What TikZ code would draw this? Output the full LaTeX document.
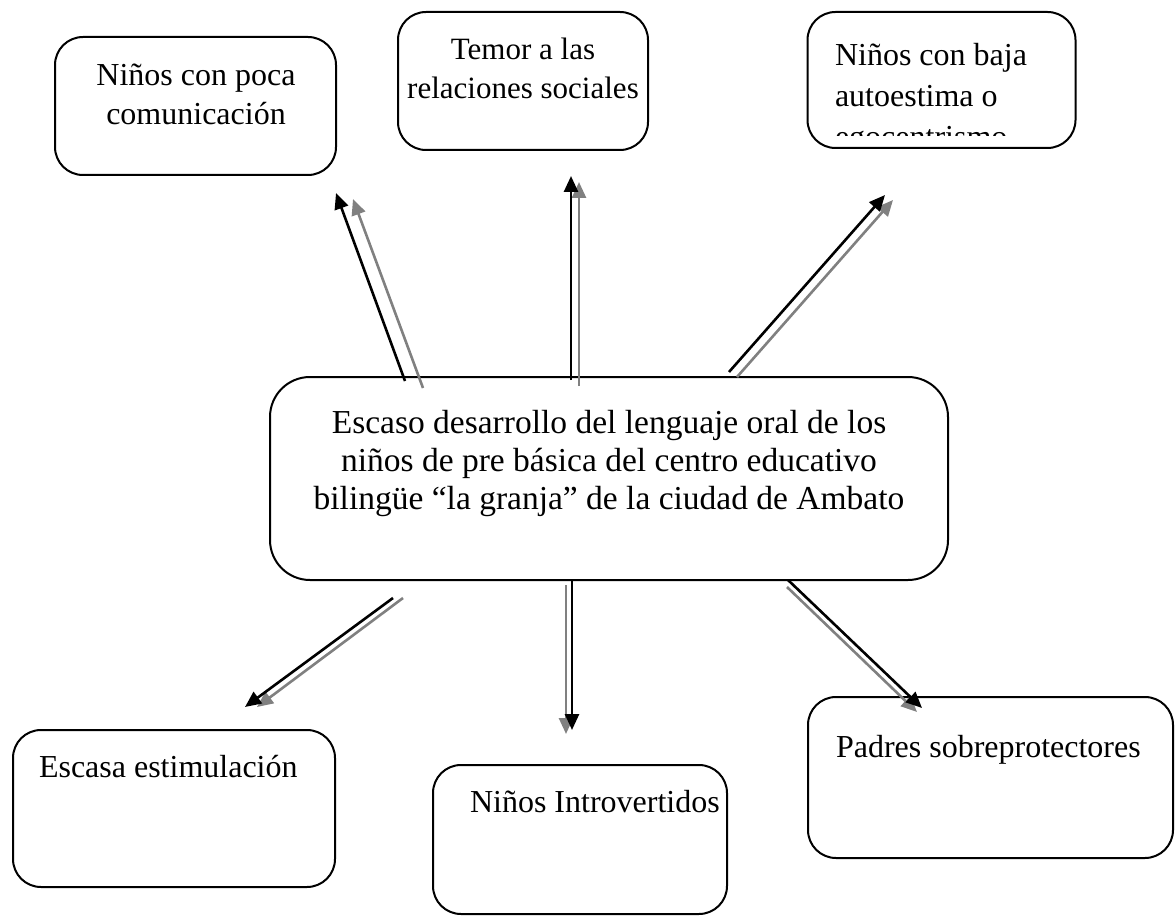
\documentclass[tikz,border=0pt]{standalone}
\usepackage{fontspec}
\setmainfont{Liberation Serif}
\usetikzlibrary{arrows.meta}
\definecolor{shadowgray}{HTML}{808080}
\tikzset{
  box/.style={draw=black, line width=2pt, rounded corners=28pt, rectangle, inner sep=0pt, outer sep=0pt},
  txt/.style={font=\fontsize{32}{39}\selectfont, inner sep=0pt, outer sep=0pt},
  blk/.style={draw=black, line width=2.6pt, -{Triangle[length=16pt,width=14pt]}},
  gry/.style={draw=shadowgray, line width=2.6pt, -{Triangle[length=16pt,width=14pt]}}
}
\begin{document}
\begin{tikzpicture}[x=1pt,y=-1pt]
\useasboundingbox (0,0) rectangle (1175,917);
% boxes
\node[box, minimum width=281pt, minimum height=138pt] (a) at (195.5,106) {};
\node[box, minimum width=250pt, minimum height=138pt] (b) at (523,81) {};
\node[box, minimum width=268pt, minimum height=136pt] (c) at (941.5,80) {};
\node[box, minimum width=678pt, minimum height=203pt, rounded corners=40pt] (m) at (609,478.5) {};
\node[box, minimum width=322pt, minimum height=157pt] (d) at (174,808.5) {};
\node[box, minimum width=294pt, minimum height=149pt] (e) at (580,839.5) {};
\node[box, minimum width=365pt, minimum height=161pt] (f) at (990.5,777.5) {};
% texts (base anchor = baseline of the last line)
\node[txt, align=center, anchor=base] (ta) at (196,125) {Niños con poca\\comunicación};
\node[txt, align=center, anchor=base, font=\fontsize{31}{39}\selectfont] (tb) at (523,99) {Temor a las\\relaciones sociales};
\begin{scope}
\clip (800,0) rectangle (1175,136);
\node[txt, align=left, anchor=base west, font=\fontsize{32}{41}\selectfont] (tc) at (835,148) {Niños con baja\\autoestima o\\egocentrismo};
\end{scope}
\node[txt, align=center, anchor=base, font=\fontsize{33.5}{38}\selectfont] (tm) at (609,509) {Escaso desarrollo del lenguaje oral de los\\niños de pre básica del centro educativo\\bilingüe “la granja” de la ciudad de Ambato};
\node[txt, anchor=base west] (td) at (39,777) {Escasa estimulación};
\node[txt, anchor=base west] (te) at (470,812) {Niños Introvertidos};
\node[txt, anchor=base west] (tf) at (836,757) {Padres sobreprotectores};
% arrow end points
\coordinate (a1k) at (405,381); \coordinate (a1kt) at (336,193);
\coordinate (a1g) at (423,388); \coordinate (a1gt) at (353,199);
\coordinate (a2k) at (571,380); \coordinate (a2kt) at (571,176);
\coordinate (a2g) at (579,386); \coordinate (a2gt) at (579,182);
\coordinate (a3k) at (729,372); \coordinate (a3kt) at (885,195);
\coordinate (a3g) at (737,377); \coordinate (a3gt) at (893,200);
\coordinate (a4k) at (393,598); \coordinate (a4kt) at (245,707);
\coordinate (a4g) at (403,598); \coordinate (a4gt) at (257,707);
\coordinate (a5k) at (572,580); \coordinate (a5kt) at (572,730);
\coordinate (a5g) at (566,585); \coordinate (a5gt) at (566,734);
\coordinate (a6k) at (788,580); \coordinate (a6kt) at (922,708);
\coordinate (a6g) at (787,587); \coordinate (a6gt) at (917,712);
% arrows: gray shadow first, black on top
\foreach \i in {1,...,6}{
  \draw[gry] (a\i g) -- (a\i gt);
  \draw[blk] (a\i k) -- (a\i kt);
}
\end{tikzpicture}
\end{document}
